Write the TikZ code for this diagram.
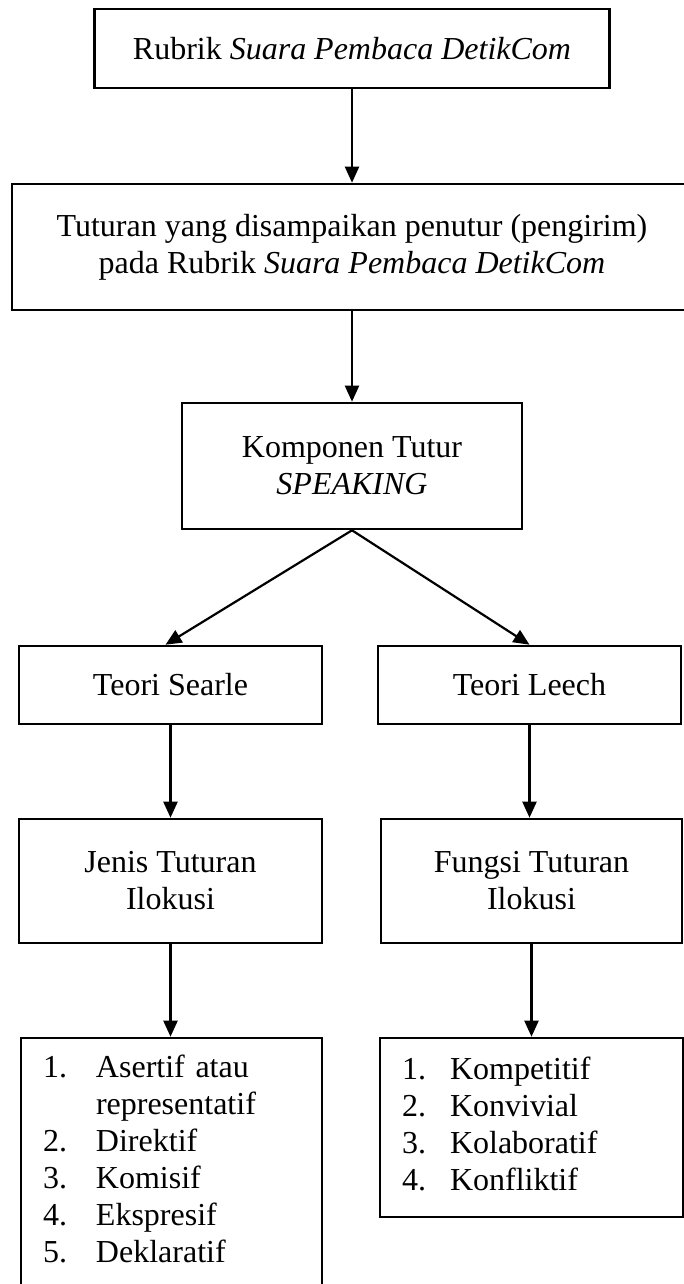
\documentclass[tikz,border=0pt]{standalone}
\usepackage{fontspec}
\setmainfont{Liberation Serif}
\usepackage{tikz}
\usetikzlibrary{arrows.meta}

\begin{document}
\begin{tikzpicture}[
    x=1pt,y=-1pt,
    font=\fontsize{32}{37}\selectfont,
    box/.style={draw,line width=2.6pt,inner sep=0pt,align=center},
    listbox/.style={draw,line width=2.6pt,inner xsep=22pt,inner ysep=0pt,
      align=left},
    flow/.style={-{Triangle[length=16pt,width=14pt]},line width=2.2pt}
  ]
    \path[use as bounding box,clip] (0,0) rectangle (684,1284);
    % top of the chain
    \node[box,minimum width=515pt,minimum height=79pt] (rubrik) at (352,48.5)
      {Rubrik \textit{Suara Pembaca DetikCom}};
    \node[box,minimum width=680pt,minimum height=126pt] (tuturan) at (352,247)
      {Tuturan yang disampaikan penutur (pengirim)\\
       pada Rubrik \textit{Suara Pembaca DetikCom}};
    \node[box,minimum width=340pt,minimum height=126pt] (komponen) at (352,466)
      {Komponen Tutur\\ \textit{SPEAKING}};
    % two branches
    \node[box,minimum width=303pt,minimum height=78pt] (searle) at (170.5,685)
      {Teori Searle};
    \node[box,minimum width=303pt,minimum height=78pt] (leech) at (529.5,685)
      {Teori Leech};
    \node[box,minimum width=303pt,minimum height=124pt] (jenis) at (170.5,881)
      {Jenis Tuturan\\ Ilokusi};
    \node[box,minimum width=301pt,minimum height=124pt] (fungsi) at (531.5,881)
      {Fungsi Tuturan\\ Ilokusi};
    \node[listbox,text width=257pt,minimum height=250pt] (jenislist) at (171.5,1163)
      {\begin{tabular}{@{}p{53pt}@{}l@{}}
         1. & Asertif atau\\
            & representatif\\
         2. & Direktif\\
         3. & Komisif\\
         4. & Ekspresif\\
         5. & Deklaratif
       \end{tabular}};
    \node[listbox,text width=259pt,minimum height=179pt] (fungsilist) at (531.5,1127.5)
      {\begin{tabular}{@{}p{48pt}@{}l@{}}
         1. & Kompetitif\\
         2. & Konvivial\\
         3. & Kolaboratif\\
         4. & Konfliktif
       \end{tabular}};
    % connectors
    \draw[flow] (rubrik) -- (tuturan);
    \draw[flow] (tuturan) -- (komponen);
    \draw[flow] (komponen.south) -- ([xshift=-5pt]searle.north);
    \draw[flow] (komponen.south) -- (leech.north);
    \draw[flow] (searle) -- (jenis);
    \draw[flow] (leech.south) -- (leech.south |- fungsi.north);
    \draw[flow] (jenis.south) -- (jenis.south |- jenislist.north);
    \draw[flow] (fungsi) -- (fungsilist);
\end{tikzpicture}
\end{document}
